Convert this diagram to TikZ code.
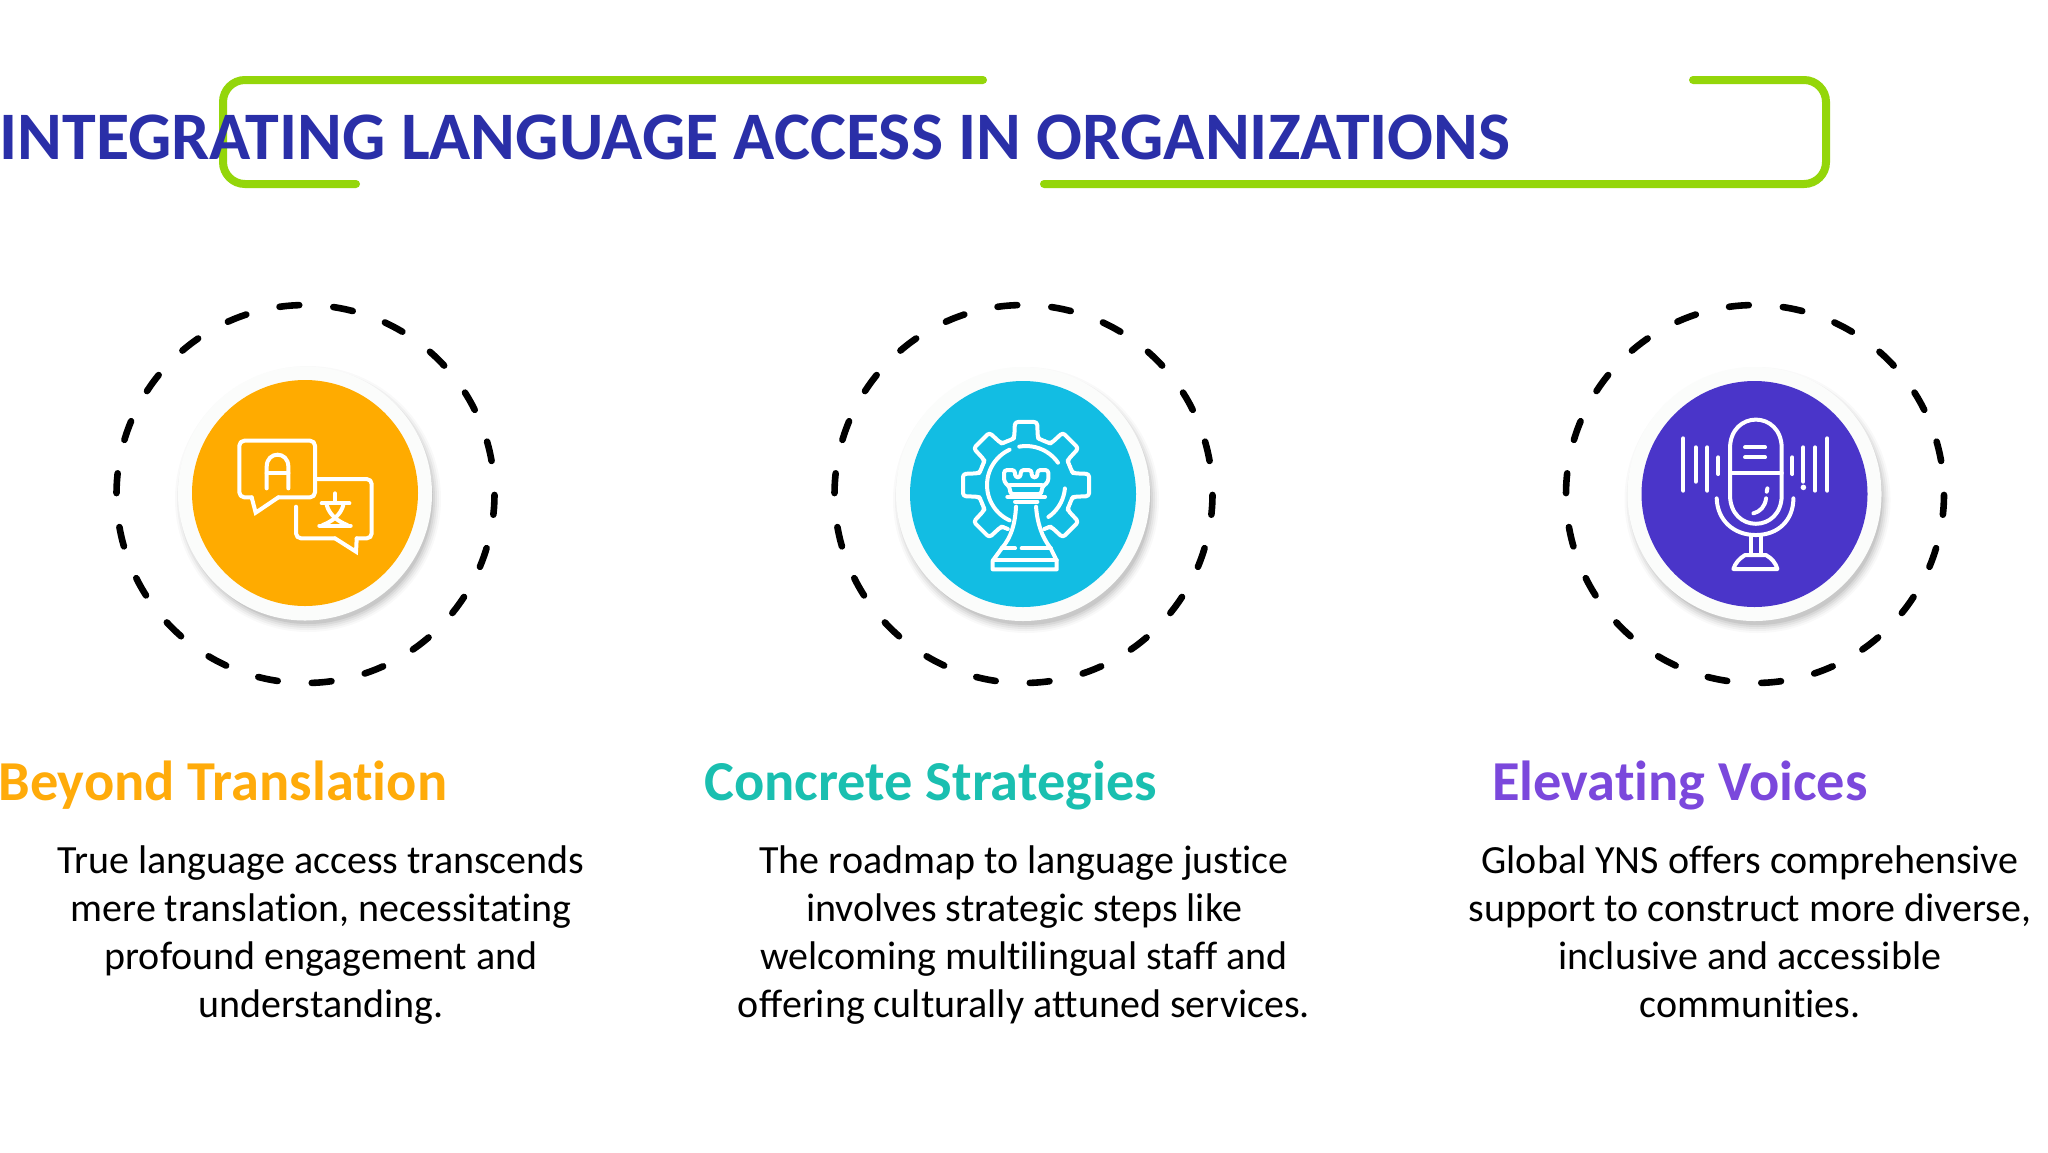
\documentclass[tikz,border=0pt]{standalone}
\usepackage{fontspec}
\setmainfont{Carlito}[Ligatures={NoCommon}]
\definecolor{titleblue}{HTML}{2A2FA8}
\definecolor{brgreen}{HTML}{94D60A}
\definecolor{orangeA}{HTML}{FFAB00}
\definecolor{cyanB}{HTML}{12BDE3}
\definecolor{violetC}{HTML}{4A35C9}
\definecolor{headA}{HTML}{FFAB0A}
\definecolor{headB}{HTML}{1ABFB0}
\definecolor{headC}{HTML}{7B48DC}
\definecolor{ringpale}{HTML}{FBFCFB}
\tikzset{
 x=0.5pt,y=-0.5pt,
 bracket/.style={draw=brgreen,line width=4pt,line cap=round,rounded corners=11pt},
 dashseg/.style={draw=black,line width=3.3pt,line cap=round},
 disc/.style={circle,inner sep=0pt,minimum size=113pt},
 ring/.style={circle,inner sep=0pt,minimum size=127pt,fill=ringpale},
 ico/.style={draw=white,line width=2pt,line cap=round,line join=round},
 heading/.style={font=\bfseries\fontsize{28.2}{32}\selectfont,inner sep=0pt},
 body/.style={font=\fontsize{20}{23.85}\selectfont,align=center,inner sep=0pt,text=black},
}
\newcommand{\dashring}[2]{%
 \foreach \i in {0,...,21}{%
  \pgfmathsetmacro{\aa}{94.9+\i*16.3636-3.0}%
  \pgfmathsetmacro{\ab}{94.9+\i*16.3636+3.0}%
  \draw[dashseg] plot[domain=\aa:\ab,samples=4,smooth] ({#1+189*cos(\x)},{#2-189*sin(\x)});
 }}
\newcommand{\softshadow}[2]{%
 \foreach \r/\o in {133/0.025,131/0.035,129/0.045,127/0.055,125/0.07}{%
  \fill[black,opacity=\o] (#1+3,#2+6) circle[radius=\r*0.5pt];
 }}
\begin{document}
\begin{tikzpicture}
\useasboundingbox[fill=white] (0,0) rectangle (2048,1152);
% title bracket
\draw[bracket] (983,80) -- (223,80) -- (223,184) -- (356,184);
\draw[bracket] (1693,80) -- (1826,80) -- (1826,184) -- (1044,184);
\node[anchor=base west,inner sep=0pt,text=titleblue,font=\bfseries\fontsize{34}{40}\selectfont] (title) at (-1,159) {INTEGRATING LANGUAGE ACCESS IN ORGANIZATIONS};
% rings
\dashring{305.5}{494}
\dashring{1023.5}{494}
\dashring{1755}{494}
% discs
\softshadow{305}{493}
\softshadow{1023}{494}
\softshadow{1754.5}{494}
\node[ring] (ringA) at (305,493.5) {};
\node[ring] (ringB) at (1023,494) {};
\node[ring] (ringC) at (1754.5,494) {};
\node[disc,fill=orangeA] (discA) at (305,493) {};
\node[disc,fill=cyanB] (discB) at (1023,494) {};
\node[disc,fill=violetC] (discC) at (1754.5,494) {};
% translate icon
\begin{scope}[shift={(210,410)},x=0.1667pt,y=-0.1667pt]
 \draw[ico,rounded corners=2.5pt] (125,262) -- (88,262) -- (88,92) -- (315,92) -- (315,262) -- (205,262);
 \draw[ico,line join=miter] (125,262) -- (137,308) -- (205,262);
 \draw[ico,rounded corners=2.5pt] (322,207) -- (485,207) -- (485,385) -- (440,385);
 \draw[ico,line join=miter] (440,385) -- (438,425) -- (375,385);
 \draw[ico,rounded corners=2.5pt] (375,385) -- (258,385) -- (258,290);
 \draw[ico] (170,235) -- (170,170) .. controls (170,122) and (235,122) .. (235,170) -- (235,235);
 \draw[ico] (170,190) -- (235,190);
 \draw[ico] (375,250) -- (375,278);
 \draw[ico] (335,280) -- (418,280);
 \draw[ico] (350,285) .. controls (358,315) and (385,335) .. (412,345);
 \draw[ico] (400,285) .. controls (392,315) and (365,335) .. (338,345);
 \draw[ico] (328,347) -- (422,347);
\end{scope}
% rook and gear icon
\begin{scope}[shift={(900,370)},x=0.1667pt,y=-0.1667pt]
 \foreach \a in {-90,-45,0,45,135,180,225}{%
  \draw[ico,shift={(378,345)},rounded corners=1.5pt]
   (\a-22.5:143) -- (\a-17:143) -- (\a-14:146) -- (\a-10:192) -- (\a+10:192) -- (\a+14:146) -- (\a+17:143) -- (\a+22.5:143);
 }
 \draw[ico] plot[smooth,samples=20,domain=115:245] ({378+117*cos(\x)},{345+117*sin(\x)});
 \draw[ico] plot[smooth,samples=12,domain=-100:-35] ({378+117*cos(\x)},{345+117*sin(\x)});
 \draw[ico] plot[smooth,samples=10,domain=5:55] ({378+117*cos(\x)},{345+117*sin(\x)});
 % rook
 \draw[ico,rounded corners=1.5pt] (312,300) -- (345,300) -- (345,322) -- (362,322) -- (362,300) -- (395,300) -- (395,322) -- (412,322) -- (412,300) -- (445,300) -- (445,335) -- (425,352) -- (425,372) -- (330,372) -- (330,352) -- (312,335) -- cycle;
 \draw[ico] (330,345) -- (425,345);
 \draw[ico] (322,380) -- (435,380) ;
 \draw[ico] (345,395) -- (412,395);
 \draw[ico] (348,410) .. controls (345,460) and (335,500) .. (305,535);
 \draw[ico] (408,410) .. controls (412,460) and (425,500) .. (452,535);
 \draw[ico] (305,535) -- (345,535);
 \draw[ico] (365,535) -- (452,535);
 \draw[ico] (452,535) -- (470,572) -- (470,598) -- (278,598) -- (278,572) -- (305,535);
 \draw[ico] (280,570) -- (470,570);
\end{scope}
% microphone icon
\begin{scope}[shift={(1630,370)},x=0.1667pt,y=-0.1667pt]
 \draw[ico] (300,235) .. controls (300,120) and (455,120) .. (455,235) -- (455,375) .. controls (455,490) and (300,490) .. (300,375) -- cycle;
 \draw[ico] (300,310) -- (455,310);
 \draw[ico] (345,232) -- (405,232);
 \draw[ico] (345,262) -- (405,262);
 \draw[ico] (412,355) -- (410,365);
 \draw[ico] (408,385) .. controls (405,410) and (390,425) .. (370,430);
 \draw[ico] (260,385) .. controls (262,450) and (310,495) .. (377,495) .. controls (445,495) and (490,450) .. (490,385);
 \draw[ico] (362,495) -- (362,555);
 \draw[ico] (392,495) -- (392,555);
 \draw[ico] (345,555) -- (408,555) .. controls (425,565) and (438,580) .. (442,597) -- (310,597) .. controls (315,580) and (328,565) .. (345,555) -- cycle;
 \foreach \px/\pa/\pb in {160/205/362,197/232/335,232/232/362,265/262/312,487/262/312,520/232/335,555/232/362,592/205/362}{%
  \draw[ico] (\px,\pa) -- (\px,\pb);
 }
 \fill[white] (520,352) circle[radius=1.4pt];
\end{scope}
% headings
\node[heading,anchor=base west,text=headA] (headA) at (-2,800) {Beyond Translation};
\node[heading,anchor=base west,text=headB] (headB) at (704,800) {Concrete Strategies};
\node[heading,anchor=base west,text=headC] (headC) at (1492,800) {Elevating Voices};
% bodies
\node[body,anchor=base] (bodyA) at (321,1017) {True language access transcends\\mere translation, necessitating\\profound engagement and\\understanding.};
\node[body,anchor=base] (bodyB) at (1024,1017) {The roadmap to language justice\\involves strategic steps like\\welcoming multilingual staff and\\offering culturally attuned services.};
\node[body,anchor=base] (bodyC) at (1750,1017) {Global YNS offers comprehensive\\support to construct more diverse,\\inclusive and accessible\\communities.};
\end{tikzpicture}
\end{document}
